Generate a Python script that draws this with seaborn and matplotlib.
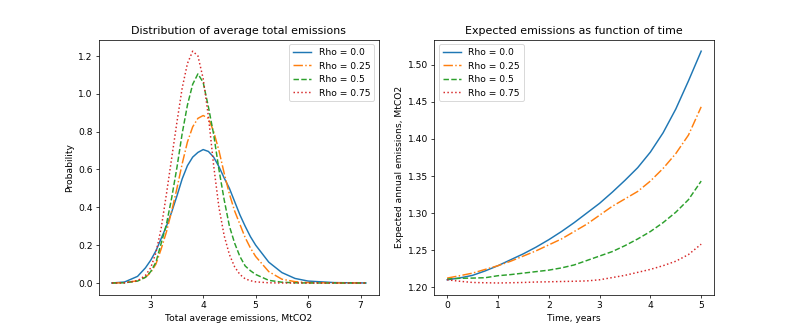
import matplotlib
matplotlib.use("Agg")
import matplotlib.pyplot as plt
import seaborn as sns

# left panel: density of average total emissions
emis = [2.26, 2.5, 2.75, 2.9, 3.0, 3.1, 3.2, 3.3, 3.4, 3.5, 3.6, 3.7, 3.8, 3.9,
        4.0, 4.1, 4.2, 4.3, 4.4, 4.5, 4.6, 4.7, 4.8, 4.9, 5.0, 5.25, 5.5, 5.75,
        6.0, 6.5, 7.1]
dens_rho00 = [0.0, 0.005, 0.035, 0.08, 0.12, 0.17, 0.235, 0.30, 0.375, 0.46, 0.55,
              0.62, 0.665, 0.69, 0.705, 0.695, 0.665, 0.615, 0.555, 0.50, 0.43, 0.36,
              0.30, 0.245, 0.20, 0.11, 0.055, 0.024, 0.01, 0.002, 0.0]
dens_rho25 = [0.0, 0.001, 0.012, 0.03, 0.055, 0.10, 0.18, 0.27, 0.38, 0.50, 0.63,
              0.745, 0.825, 0.87, 0.885, 0.87, 0.80, 0.70, 0.58, 0.47, 0.38, 0.31,
              0.24, 0.185, 0.14, 0.06, 0.02, 0.007, 0.002, 0.0, 0.0]
dens_rho50 = [0.0, 0.001, 0.01, 0.03, 0.06, 0.11, 0.21, 0.31, 0.45, 0.61, 0.79,
              0.94, 1.05, 1.105, 1.06, 0.93, 0.785, 0.60, 0.44, 0.30, 0.21, 0.14,
              0.09, 0.065, 0.045, 0.014, 0.004, 0.001, 0.0, 0.0, 0.0]
dens_rho75 = [0.0, 0.001, 0.012, 0.04, 0.08, 0.16, 0.29, 0.47, 0.66, 0.85, 1.03,
              1.16, 1.225, 1.20, 1.08, 0.88, 0.62, 0.40, 0.25, 0.15, 0.085, 0.045,
              0.022, 0.012, 0.006, 0.001, 0.0, 0.0, 0.0, 0.0, 0.0]

# right panel: expected annual emissions over time
years = [0, 0.25, 0.5, 0.75, 1.0, 1.25, 1.5, 1.75, 2.0, 2.25, 2.5, 2.75, 3.0,
         3.25, 3.5, 3.75, 4.0, 4.25, 4.5, 4.75, 5.0]
exp_rho00 = [1.210, 1.2125, 1.216, 1.222, 1.229, 1.237, 1.245, 1.254, 1.264, 1.275,
             1.287, 1.300, 1.313, 1.328, 1.344, 1.361, 1.382, 1.408, 1.440, 1.478, 1.518]
exp_rho25 = [1.2123, 1.2155, 1.219, 1.224, 1.229, 1.235, 1.242, 1.249, 1.257, 1.265,
             1.275, 1.285, 1.297, 1.309, 1.319, 1.329, 1.343, 1.360, 1.380, 1.405, 1.443]
exp_rho50 = [1.211, 1.212, 1.2123, 1.2128, 1.2155, 1.217, 1.219, 1.221, 1.223, 1.226,
             1.230, 1.236, 1.242, 1.248, 1.256, 1.265, 1.275, 1.287, 1.301, 1.318, 1.343]
exp_rho75 = [1.210, 1.208, 1.2064, 1.206, 1.2057, 1.206, 1.2064, 1.207, 1.2073, 1.2077,
             1.208, 1.2085, 1.210, 1.213, 1.216, 1.220, 1.224, 1.229, 1.235, 1.244, 1.258]

labels = ['Rho = 0.0', 'Rho = 0.25', 'Rho = 0.5', 'Rho = 0.75']
styles = ['-', '-.', '--', ':']
colors = plt.rcParams['axes.prop_cycle'].by_key()['color']

fig, (ax1, ax2) = plt.subplots(1, 2, figsize=(12, 5.01), dpi=66.1)

for n, dens in enumerate([dens_rho00, dens_rho25, dens_rho50, dens_rho75]):
    sns.lineplot(x=emis, y=dens, ax=ax1, color=colors[n], linestyle=styles[n],
                 label=labels[n], linewidth=1.6)
ax1.set_title('Distribution of average total emissions')
ax1.set_xlabel('Total average emissions, MtCO2')
ax1.set_ylabel('Probability')
ax1.legend(loc='upper right')

for n, ser in enumerate([exp_rho00, exp_rho25, exp_rho50, exp_rho75]):
    sns.lineplot(x=years, y=ser, ax=ax2, color=colors[n], linestyle=styles[n],
                 label=labels[n], linewidth=1.6)
ax2.set_title('Expected emissions as function of time')
ax2.set_xlabel('Time, years')
ax2.set_ylabel('Expected annual emissions, MtCO2')
ax2.legend(loc='upper left')

fig.savefig('out.png', dpi=66.1)
